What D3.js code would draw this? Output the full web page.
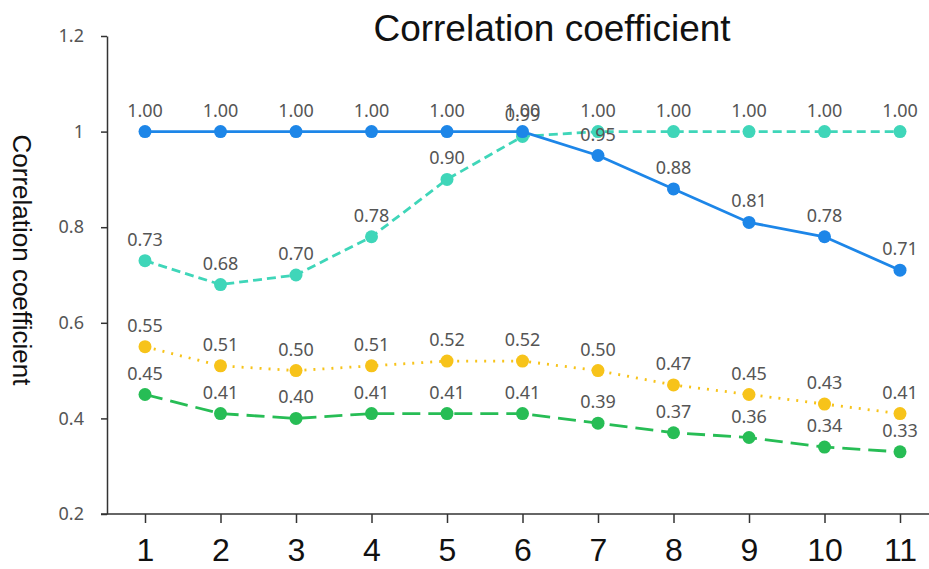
<!DOCTYPE html>
<html>
<head>
<meta charset="utf-8">
<script src="https://cdn.jsdelivr.net/npm/d3@7"></script>
<style>
  body { margin: 0; background: #fff; }
  svg { display: block; font-family: "Liberation Sans", Arial, sans-serif; }
</style>
</head>
<body>
<div id="viz"></div>
<script>
const categories = ["1", "2", "3", "4", "5", "6", "7", "8", "9", "10", "11"];
const blueValues = [1.00, 1.00, 1.00, 1.00, 1.00, 1.00, 0.95, 0.88, 0.81, 0.78, 0.71];
const tealValues = [0.73, 0.68, 0.70, 0.78, 0.90, 0.99, 1.00, 1.00, 1.00, 1.00, 1.00];
const yellowValues = [0.55, 0.51, 0.50, 0.51, 0.52, 0.52, 0.50, 0.47, 0.45, 0.43, 0.41];
const greenValues = [0.45, 0.41, 0.40, 0.41, 0.41, 0.41, 0.39, 0.37, 0.36, 0.34, 0.33];
const yTicks = [0.2, 0.4, 0.6, 0.8, 1, 1.2];

const series = [
  {values: yellowValues, color: "#f7c31a", dash: "2,7"},
  {values: greenValues, color: "#27bd55", dash: "18,8"},
  {values: tealValues, color: "#3fd6b9", dash: "9,5"},
  {values: blueValues, color: "#1d86e8", dash: null}
];

const width = 929, height = 569;
const svg = d3.select("#viz").append("svg")
  .attr("width", width)
  .attr("height", height);

const left = 107, bottom = 514;

const x = d3.scalePoint()
  .domain(categories)
  .range([left + 38, 900]);

const y = d3.scaleLinear()
  .domain([0.2, 1.2])
  .range([bottom, 36]);

// y axis
const yAxis = svg.append("g")
  .attr("transform", `translate(${left},0)`)
  .call(d3.axisLeft(y).tickValues(yTicks).tickSize(6).tickSizeOuter(0).tickFormat(d => d3.format("")(d)));
yAxis.select(".domain").attr("stroke", "#333").attr("stroke-width", 1.5);
yAxis.selectAll(".tick line").attr("stroke", "#333").attr("stroke-width", 1.5);
yAxis.selectAll(".tick text")
  .attr("fill", "#555")
  .attr("font-size", 18)
  .attr("x", -23)
  .attr("font-family", "'Noto Sans', sans-serif");

// x axis
const xAxis = svg.append("g")
  .attr("transform", `translate(0,${bottom})`)
  .call(d3.axisBottom(x).tickSize(9).tickSizeOuter(0));
xAxis.select(".domain").attr("d", `M${left - 6},0H${width}`).attr("stroke", "#333").attr("stroke-width", 1.5);
xAxis.selectAll(".tick line").attr("stroke", "#333").attr("stroke-width", 1.5);
xAxis.selectAll(".tick text")
  .attr("fill", "#111")
  .attr("font-size", 32)
  .attr("y", 24);

// titles
svg.append("text")
  .attr("x", 552)
  .attr("y", 41)
  .attr("text-anchor", "middle")
  .attr("font-size", 37)
  .attr("fill", "#111")
  .text("Correlation coefficient");

svg.append("text")
  .attr("transform", `translate(13,260) rotate(90)`)
  .attr("text-anchor", "middle")
  .attr("font-size", 26)
  .attr("fill", "#111")
  .text("Correlation coefficient");

const line = d3.line()
  .x((d, i) => x(categories[i]))
  .y(d => y(d));

series.forEach(s => {
  const g = svg.append("g");
  g.append("path")
    .datum(s.values)
    .attr("d", line)
    .attr("fill", "none")
    .attr("stroke", s.color)
    .attr("stroke-width", 2.8)
    .attr("stroke-dasharray", s.dash);
  g.selectAll("circle")
    .data(s.values)
    .enter()
    .append("circle")
    .attr("cx", (d, i) => x(categories[i]))
    .attr("cy", d => y(d))
    .attr("r", 6.5)
    .attr("fill", s.color);
});

// value labels
series.forEach(s => {
  svg.append("g").selectAll("text")
    .data(s.values)
    .enter()
    .append("text")
    .attr("x", (d, i) => x(categories[i]))
    .attr("y", d => y(d) - 15)
    .attr("text-anchor", "middle")
    .attr("font-size", 18)
    .attr("fill", "#555")
    .attr("font-family", "'Noto Sans', sans-serif")
    .text(d => d.toFixed(2));
});
</script>
</body>
</html>
